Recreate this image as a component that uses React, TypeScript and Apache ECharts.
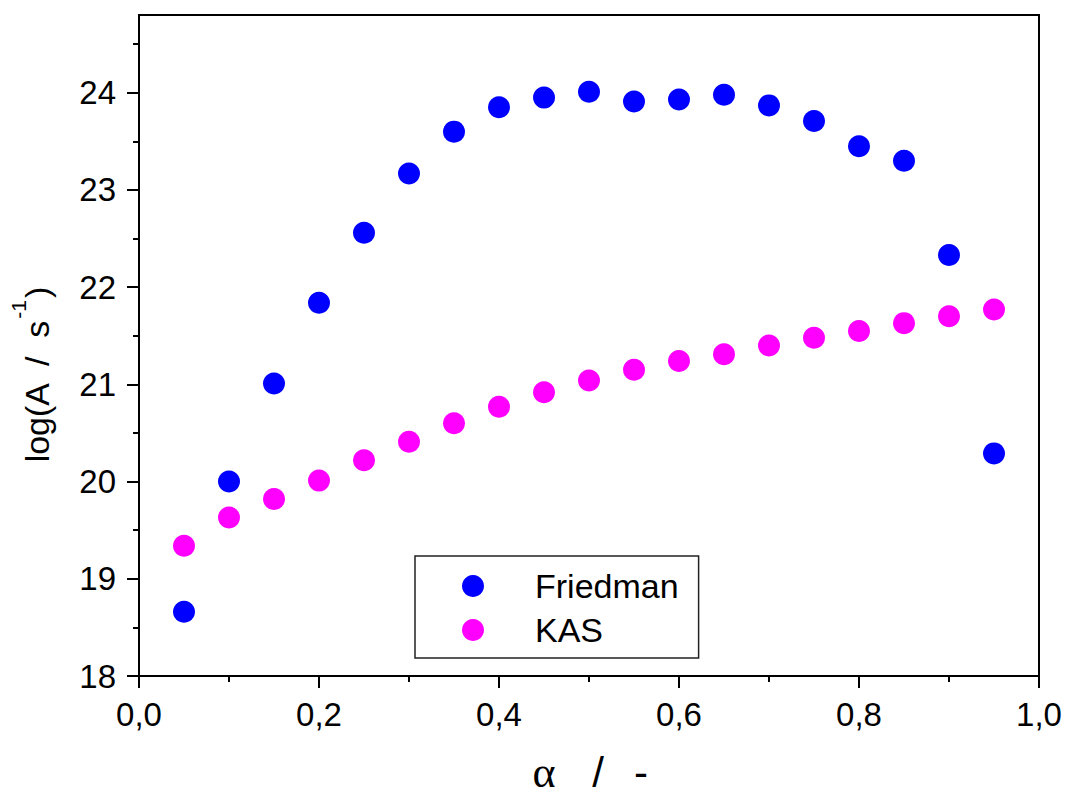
import React, { useEffect, useRef } from "react";
import * as echarts from "echarts";

// conversion degree α
const alpha = [0.05, 0.1, 0.15, 0.2, 0.25, 0.3, 0.35, 0.4, 0.45, 0.5, 0.55, 0.6, 0.65, 0.7, 0.75, 0.8, 0.85, 0.9, 0.95];

// log(A / s^-1) from the Friedman method
const friedman = [18.66, 20.0, 21.01, 21.84, 22.56, 23.17, 23.6, 23.85, 23.95, 24.01, 23.91, 23.93, 23.98, 23.87, 23.71, 23.45, 23.3, 22.33, 20.29];

// log(A / s^-1) from the KAS method
const kas = [19.34, 19.63, 19.82, 20.01, 20.22, 20.41, 20.6, 20.77, 20.92, 21.04, 21.15, 21.24, 21.31, 21.4, 21.48, 21.55, 21.63, 21.7, 21.77];

const yMajorTicks = [18, 19, 20, 21, 22, 23, 24];
const yMinorTicks = [18.5, 19.5, 20.5, 21.5, 22.5, 23.5, 24.5];

const FONT = "'Liberation Sans', Arial, sans-serif";
const SERIF = "'Liberation Serif', 'DejaVu Serif', serif";

export default function App() {
  const ref = useRef<HTMLDivElement>(null);

  useEffect(() => {
    if (!ref.current) return;
    const chart = echarts.init(ref.current, undefined, { renderer: "svg" });

    const pairs = (ys: number[]) => alpha.map((a, i) => [a, ys[i]]);

    chart.setOption({
      animation: false,
      backgroundColor: "#ffffff",
      grid: {
        left: 139,
        right: 26,
        top: 15,
        bottom: 122,
        show: true,
        borderColor: "#000",
        borderWidth: 2,
        backgroundColor: "transparent",
      },
      xAxis: {
        type: "value",
        min: 0,
        max: 1,
        interval: 0.2,
        axisLine: { lineStyle: { color: "#000", width: 2 } },
        axisTick: { show: true, inside: false, length: 12, lineStyle: { color: "#000", width: 2 } },
        minorTick: { show: true, splitNumber: 2, length: 6, lineStyle: { color: "#000", width: 2 } },
        splitLine: { show: false },
        axisLabel: {
          margin: 22,
          color: "#000",
          fontSize: 33,
          fontFamily: FONT,
          formatter: (v: number) => v.toFixed(1).replace(".", ","),
        },
      },
      yAxis: [
        {
          type: "value",
          position: "left",
          min: 18,
          max: 24.8,
          axisLine: { show: true, lineStyle: { color: "#000", width: 2 } },
          axisTick: {
            show: true,
            inside: false,
            length: 12,
            customValues: yMajorTicks,
            lineStyle: { color: "#000", width: 2 },
          },
          splitLine: { show: false },
          axisLabel: {
            margin: 23,
            color: "#000",
            fontSize: 33,
            fontFamily: FONT,
            customValues: yMajorTicks,
            formatter: (v: number) => String(v),
          },
        },
        {
          type: "value",
          position: "left",
          min: 18,
          max: 24.8,
          axisLine: { show: false },
          axisTick: {
            show: true,
            inside: false,
            length: 6,
            customValues: yMinorTicks,
            lineStyle: { color: "#000", width: 2 },
          },
          axisLabel: { show: false },
          splitLine: { show: false },
        },
      ],
      legend: {
        data: ["Friedman", "KAS"],
        orient: "vertical",
        left: 415,
        top: 556,
        icon: "circle",
        itemWidth: 22,
        itemHeight: 22,
        itemGap: 10,
        padding: [13, 20, 11, 47],
        borderColor: "#222",
        borderWidth: 1.5,
        backgroundColor: "#fff",
        textStyle: { color: "#000", fontSize: 34, fontFamily: FONT, padding: [0, 0, 0, 46] },
      },
      graphic: [
        {
          type: "text",
          x: 37,
          y: 375,
          rotation: Math.PI / 2,
          style: {
            text: "{a|log(A  /  s}{b|-1}{a|)}",
            align: "center",
            verticalAlign: "middle",
            rich: {
              a: { fontSize: 34, fontFamily: FONT, fill: "#000", lineHeight: 58, verticalAlign: "middle" },
              b: { fontSize: 21, fontFamily: FONT, fill: "#000", lineHeight: 20, verticalAlign: "top", padding: [0, 2, 0, 1] },
            },
          },
        },
        {
          type: "text",
          x: 544,
          y: 772,
          style: {
            text: "α",
            align: "center",
            verticalAlign: "middle",
            fontSize: 44,
            fontFamily: SERIF,
            fill: "#000",
          },
        },
        {
          type: "text",
          x: 598,
          y: 772,
          style: { text: "/", align: "center", verticalAlign: "middle", fontSize: 42, fontFamily: FONT, fill: "#000" },
        },
        {
          type: "text",
          x: 641,
          y: 772,
          style: { text: "-", align: "center", verticalAlign: "middle", fontSize: 42, fontFamily: FONT, fill: "#000" },
        },
      ],
      series: [
        {
          name: "Friedman",
          type: "scatter",
          yAxisIndex: 0,
          symbol: "circle",
          symbolSize: 22,
          itemStyle: { color: "#0000ff", opacity: 1 },
          data: pairs(friedman),
        },
        {
          name: "KAS",
          type: "scatter",
          yAxisIndex: 0,
          symbol: "circle",
          symbolSize: 22,
          itemStyle: { color: "#ff00ff", opacity: 1 },
          data: pairs(kas),
        },
      ],
    });

    return () => chart.dispose();
  }, []);

  return (
    <div
      ref={ref}
      style={{ position: "absolute", left: 0, top: 0, width: 1065, height: 798, background: "#fff" }}
    />
  );
}
